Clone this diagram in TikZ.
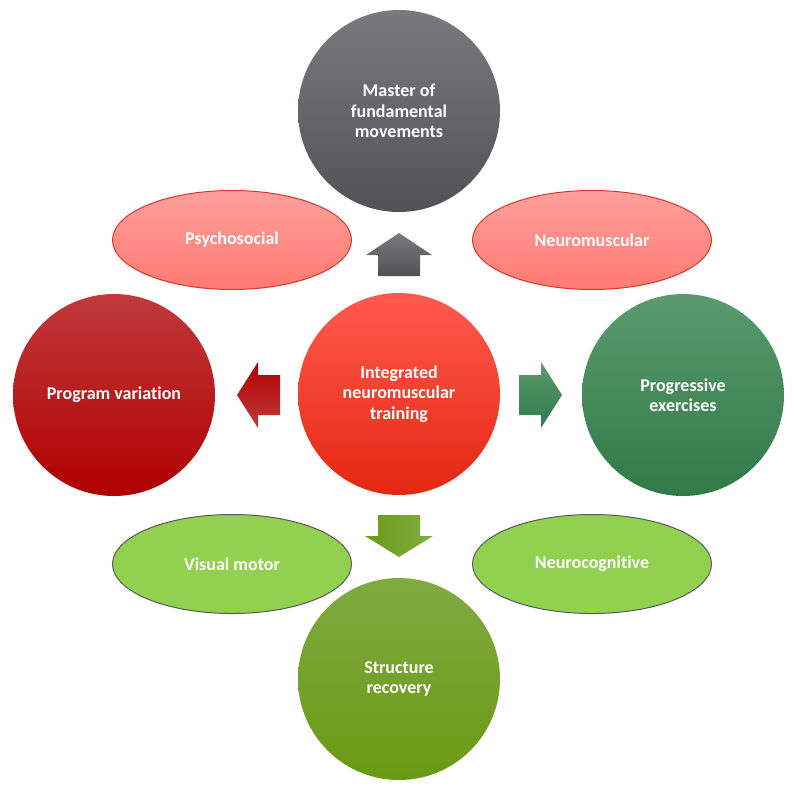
\documentclass[tikz,border=0pt]{standalone}
\usepackage{fontspec}
\setmainfont{Carlito}[Ligatures={NoCommon}]
\usepackage{tikz}
\usetikzlibrary{shapes}
\usetikzlibrary{shapes.geometric}
\definecolor{greytop}{HTML}{787A7D}
\definecolor{greybot}{HTML}{505255}
\definecolor{coretop}{HTML}{FF5A4E}
\definecolor{corebot}{HTML}{E42710}
\definecolor{wine}{HTML}{C0393B}
\definecolor{winebot}{HTML}{B00000}
\definecolor{pinetop}{HTML}{5A9A6E}
\definecolor{pinebot}{HTML}{317A48}
\definecolor{olivetop}{HTML}{80AA42}
\definecolor{olivebot}{HTML}{699A12}
\definecolor{pinktop}{HTML}{FF9F9B}
\definecolor{pinkbot}{HTML}{FF7A73}
\definecolor{pinkedge}{HTML}{E0352B}
\definecolor{lime}{HTML}{92D050}
\definecolor{limeedge}{HTML}{5A5A5A}
\tikzset{bigdisc/.style={circle, minimum size=202pt, inner sep=0pt, text=white, align=center, font=\bfseries\fontsize{18}{20.5}\selectfont}, oval/.style={ellipse, minimum width=239pt, minimum height=99pt, inner sep=0pt, line width=1pt, text=white, font=\bfseries\fontsize{18}{20.5}\selectfont}}

\begin{document}
\begin{tikzpicture}[x=1pt, y=-1pt]
\useasboundingbox (0,0) rectangle (794,788);
 % circles
 \node[bigdisc, top color=greytop, bottom color=greybot] (master) at (399,111) {Master of\\fundamental\\movements};
 \node[bigdisc, top color=coretop, bottom color=corebot] (core) at (399,394) {Integrated\\neuromuscular\\training};
 \node[bigdisc, top color=wine, bottom color=winebot] (variation) at (114,395) {Program variation};
 \node[bigdisc, top color=pinetop, bottom color=pinebot] (progress) at (683,395) {Progressive\\exercises};
 \node[bigdisc, top color=olivetop, bottom color=olivebot] (recovery) at (399,679) {Structure\\recovery};
 % ellipses
 \node[oval, draw=pinkedge, top color=pinktop, bottom color=pinkbot] (psycho) at (232,240) {Psychosocial};
 \node[oval, draw=pinkedge, top color=pinktop, bottom color=pinkbot] (neuromusc) at (592,240) {Neuromuscular};
 \node[oval, draw=limeedge, fill=lime] (visual) at (232,564) {Visual motor};
 \node[oval, draw=limeedge, fill=lime] (neurocog) at (592,564) {Neurocognitive};
 % block arrows
 \shade[top color=greytop, bottom color=greybot] (378,276) -- (378,255) -- (366,255) -- (399,233) -- (432,255) -- (420,255) -- (420,276) -- cycle;
 \shade[top color=winebot, bottom color=wine] (280,375) -- (258,375) -- (258,362) -- (237,395) -- (258,428) -- (258,415) -- (280,415) -- cycle;
 \shade[top color=pinetop, bottom color=pinebot] (519,375) -- (541,375) -- (541,362) -- (562,395) -- (541,428) -- (541,415) -- (519,415) -- cycle;
 \shade[left color=olivebot, right color=olivetop!90!lime] (378,515) -- (378,536) -- (365,536) -- (399,557) -- (433,536) -- (420,536) -- (420,515) -- cycle;
\end{tikzpicture}
\end{document}
